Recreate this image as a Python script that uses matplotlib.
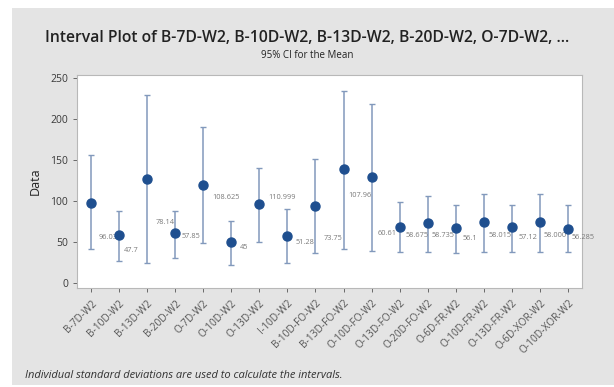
import matplotlib.pyplot as plt
from matplotlib.patches import Rectangle

groups = ['B-7D-W2', 'B-10D-W2', 'B-13D-W2', 'B-20D-W2', 'O-7D-W2', 'O-10D-W2',
          'O-13D-W2', 'I-10D-W2', 'B-10D-FO-W2', 'B-13D-FO-W2', 'O-10D-FO-W2',
          'O-13D-FO-W2', 'O-20D-FO-W2', 'O-6D-FR-W2', 'O-10D-FR-W2', 'O-13D-FR-W2',
          'O-6D-XOR-W2', 'O-10D-XOR-W2']
means = [98, 59, 127, 61, 120, 50, 96, 58, 94, 139, 130, 69, 73, 67, 75, 68, 75, 66]
lower = [41, 27, 24, 31, 49, 22, 50, 24, 37, 42, 39, 38, 38, 37, 38, 38, 38, 38]
upper = [156, 88, 230, 88, 191, 76, 140, 90, 151, 235, 218, 99, 106, 95, 109, 95, 109, 95]

# loose annotations written onto the plot (text, x position, y position)
notes = ['96.03', '47.7', '78.14', '57.85', '108.625', '45', '110.999', '51.28',
         '73.75', '107.96', '60.61', '58.675', '58.735', '56.1', '58.015', '57.12',
         '58.000', '56.285']
note_x = [1.62, 2.42, 3.64, 4.56, 5.81, 6.45, 7.81, 8.61, 9.64, 10.60, 11.55,
          12.63, 13.56, 14.51, 15.59, 16.56, 17.55, 18.55]
note_y = [56, 40, 74, 57, 105, 43, 105, 50, 55, 107, 60, 58.5, 58.5, 55, 58.5, 56,
          58.5, 56]

plt.rcParams['font.family'] = ['Open Sans', 'DejaVu Sans']

fig = plt.figure(figsize=(6.14, 3.87), dpi=100)
fig.patch.set_facecolor('white')
fig.patches.append(Rectangle((12 / 614, 2 / 387), 1, 1 - 10 / 387,
                             transform=fig.transFigure, facecolor='#e4e4e4',
                             edgecolor='none', zorder=-10))

ax = fig.add_axes([77 / 614, 1 - 288 / 387, 505 / 614, 213 / 387])
ax.set_facecolor('white')

x = list(range(1, len(groups) + 1))
yerr = [[m - lo for m, lo in zip(means, lower)], [up - m for m, up in zip(means, upper)]]
ax.errorbar(x, means, yerr=yerr, fmt='o', color='#1f4f8f', markersize=6.5,
            ecolor='#8299bc', elinewidth=1.1, capsize=2.5, capthick=1, zorder=3)

for t, tx, ty in zip(notes, note_x, note_y):
    ax.text(tx, ty, t, fontsize=5.3, color='#7a7a7a', ha='center', va='center',
            clip_on=False)

ax.set_xlim(0.5, 18.5)
ax.set_ylim(-6, 254)
ax.set_yticks([0, 50, 100, 150, 200, 250])
ax.set_xticks(x)
ax.set_xticklabels(groups, rotation=45, ha='right', rotation_mode='anchor',
                   fontsize=7.3, color='#3a3a3a')
ax.tick_params(axis='y', labelsize=7.5, colors='#555555', length=3, width=0.6)
ax.tick_params(axis='x', colors='#555555', length=3, width=0.6, pad=4)
for lbl in ax.get_yticklabels():
    lbl.set_color('#3a3a3a')
for s in ax.spines.values():
    s.set_color('#b8b8b8')
    s.set_linewidth(0.8)
ax.set_ylabel('Data', fontsize=9, color='#222222', labelpad=6)

fig.text(0.5, 1 - 38 / 387,
         'Interval Plot of B-7D-W2, B-10D-W2, B-13D-W2, B-20D-W2, O-7D-W2, ...',
         ha='center', va='center', fontsize=11.3, color='#222222', fontweight='semibold')
fig.text(0.5, 1 - 56 / 387, '95% CI for the Mean', ha='center', va='center',
         fontsize=7, color='#222222')
fig.text(25 / 614, 1 - 376 / 387,
         'Individual standard deviations are used to calculate the intervals.',
         ha='left', va='center', fontsize=8, style='italic', color='#333333')

fig.savefig('out.png', dpi=100, facecolor=fig.get_facecolor())
